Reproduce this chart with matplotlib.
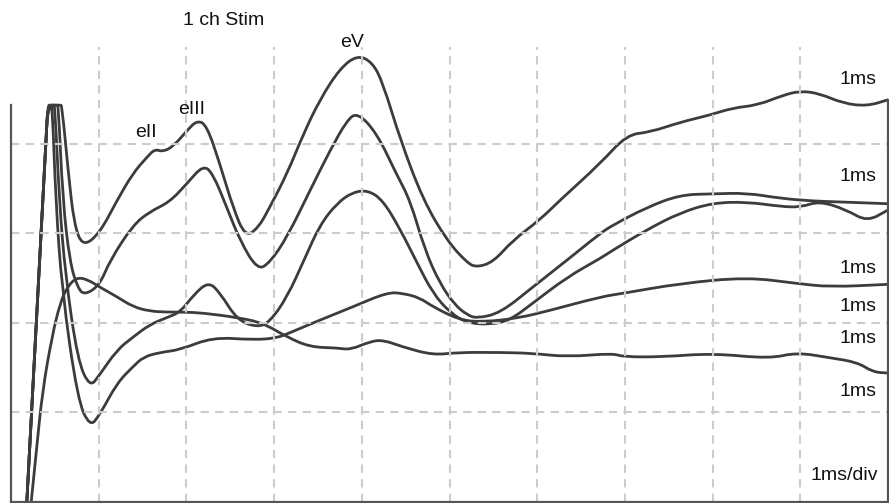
import matplotlib
matplotlib.use('Agg')
import numpy as np
import matplotlib.pyplot as plt
from matplotlib.path import Path
from matplotlib.patches import PathPatch

plt.rcParams['font.family'] = ['Liberation Sans', 'DejaVu Sans']

# time in ms, amplitude in grid divisions (the stimulus artefact is clipped at 4.43)
t1 = [0.18, 0.40, 0.42, 0.56, 0.58, 0.65, 0.72, 0.82, 1.01, 1.21, 1.39, 1.55, 1.64, 1.73, 1.85,
      2.01, 2.12, 2.23, 2.38, 2.53, 2.67, 2.82, 2.95, 3.15, 3.33, 3.52, 3.75, 3.95, 4.12, 4.24,
      4.44, 4.70, 4.97, 5.20, 5.31, 5.50, 5.72, 6.03, 6.26, 6.72, 7.02, 7.29, 7.63, 7.97, 8.23,
      8.51, 8.80, 9.00, 9.22, 9.49, 9.76, 10.0]
v1 = [0, 4.06, 4.43, 4.43, 4.43, 3.71, 3.09, 2.85, 3.00, 3.37, 3.67, 3.85, 3.94, 3.91, 3.97,
      4.15, 4.26, 4.21, 3.78, 3.29, 2.96, 3.06, 3.29, 3.67, 4.10, 4.49, 4.84, 4.99, 4.91, 4.68,
      4.04, 3.37, 2.92, 2.67, 2.62, 2.68, 2.92, 3.15, 3.37, 3.78, 4.10, 4.13, 4.24, 4.32, 4.40,
      4.43, 4.54, 4.59, 4.56, 4.45, 4.42, 4.49]

t2 = [0.18, 0.40, 0.42, 0.52, 0.54, 0.59, 0.67, 0.76, 0.84, 1.01, 1.13, 1.39, 1.58, 1.81, 2.01,
      2.19, 2.30, 2.46, 2.61, 2.81, 2.95, 3.15, 3.41, 3.64, 3.83, 3.95, 4.17, 4.40, 4.55, 4.72,
      4.89, 5.06, 5.20, 5.31, 5.58, 5.95, 6.34, 6.72, 6.86, 7.25, 7.63, 8.00, 8.39, 8.77, 9.14,
      9.45, 10.0]
v2 = [0, 4.06, 4.43, 4.43, 4.43, 3.37, 2.68, 2.39, 2.31, 2.42, 2.70, 3.09, 3.24, 3.35, 3.56,
      3.76, 3.67, 3.29, 2.92, 2.59, 2.67, 2.96, 3.48, 3.93, 4.26, 4.35, 4.12, 3.65, 3.37, 2.81,
      2.44, 2.20, 2.09, 2.05, 2.11, 2.40, 2.70, 3.00, 3.09, 3.29, 3.43, 3.44, 3.45, 3.39, 3.36,
      3.35, 3.33]

t3 = [0.18, 0.40, 0.42, 0.48, 0.50, 0.55, 0.62, 0.76, 0.90, 1.01, 1.21, 1.39, 1.58, 1.78, 1.93,
      2.08, 2.25, 2.38, 2.58, 2.81, 2.95, 3.15, 3.35, 3.52, 3.72, 3.90, 4.07, 4.24, 4.44, 4.63,
      4.81, 5.01, 5.20, 5.46, 5.69, 5.95, 6.34, 6.72, 6.86, 7.25, 7.63, 8.00, 8.39, 8.77, 9.00,
      9.22, 9.53, 9.76, 10.0]
v3 = [0, 4.06, 4.43, 4.43, 4.43, 3.37, 2.53, 1.58, 1.28, 1.42, 1.70, 1.84, 1.98, 2.06, 2.12,
      2.31, 2.46, 2.34, 2.03, 1.95, 2.01, 2.29, 2.72, 3.09, 3.34, 3.46, 3.48, 3.37, 3.04, 2.67,
      2.33, 2.11, 2.00, 1.98, 2.03, 2.22, 2.51, 2.72, 2.81, 3.04, 3.23, 3.34, 3.35, 3.30, 3.29,
      3.36, 3.26, 3.13, 3.26]

t4 = [0.18, 0.40, 0.42, 0.45, 0.47, 0.51, 0.58, 0.76, 0.90, 1.01, 1.21, 1.39, 1.51, 1.70, 1.93,
      2.30, 2.76, 3.03, 3.18, 3.52, 3.90, 4.29, 4.47, 4.66, 4.81, 5.12, 5.38, 5.77, 6.15, 6.72,
      6.98, 7.63, 8.39, 8.96, 9.34, 10.0]
v4 = [0, 4.06, 4.43, 4.43, 4.43, 3.37, 2.37, 1.14, 0.84, 0.97, 1.33, 1.51, 1.62, 1.67, 1.70,
      1.84, 1.81, 1.83, 1.89, 2.03, 2.18, 2.34, 2.33, 2.28, 2.18, 2.03, 2.01, 2.05, 2.14, 2.29,
      2.33, 2.44, 2.51, 2.44, 2.40, 2.43]

t5 = [0.23, 0.29, 0.36, 0.47, 0.56, 0.64, 0.75, 0.88, 1.01, 1.21, 1.39, 1.58, 1.78, 1.98, 2.19,
      2.58, 2.87, 3.15, 3.41, 3.72, 3.87, 4.09, 4.24, 4.47, 4.81, 5.09, 5.58, 5.95, 6.34, 6.86,
      6.98, 7.43, 8.00, 8.65, 8.96, 9.34, 9.65, 9.83, 10.0]
v5 = [0, 0.58, 1.25, 1.86, 2.22, 2.40, 2.51, 2.48, 2.40, 2.29, 2.18, 2.13, 2.12, 2.12, 2.11,
      2.06, 2.00, 1.84, 1.73, 1.72, 1.70, 1.79, 1.81, 1.73, 1.64, 1.67, 1.67, 1.66, 1.62, 1.66,
      1.62, 1.62, 1.66, 1.60, 1.67, 1.61, 1.56, 1.45, 1.44]

traces = [(t1, v1), (t2, v2), (t3, v3), (t4, v4), (t5, v5)]

scale_labels = ['1ms'] * 6
scale_label_y = [4.72, 3.63, 2.61, 2.18, 1.83, 1.23]

peak_names = ['eII', 'eIII', 'eV']
peak_x = [1.54, 2.06, 3.89]
peak_y = [4.12, 4.38, 5.13]


def smooth_path(t, v):
    # quadratic bezier through midpoints, the readings act as control points
    pts = np.column_stack([t, v])
    mids = (pts[:-1] + pts[1:]) / 2
    verts = [pts[0], mids[0]]
    codes = [Path.MOVETO, Path.LINETO]
    for i in range(1, len(pts) - 1):
        verts += [pts[i], mids[i]]
        codes += [Path.CURVE3, Path.CURVE3]
    verts.append(pts[-1])
    codes.append(Path.LINETO)
    return Path(verts, codes)


fig = plt.figure(figsize=(8.89, 5.03), dpi=100)
ax = fig.add_axes([0.0124, 0.002, 0.9865, 0.9046])
ax.set_xlim(0, 10)
ax.set_ylim(0, 5.08)

# dashed grid, one line per division
ax.set_xticks(np.arange(1, 10))
ax.set_yticks(np.arange(1, 5))
ax.tick_params(length=0, labelbottom=False, labelleft=False)
ax.grid(True, color='#cccccc', linestyle=(0, (4, 3)), linewidth=1.5)

for t, v in traces:
    ax.add_patch(PathPatch(smooth_path(t, v), facecolor='none', edgecolor='#3c3c3c',
                           linewidth=2.0, capstyle='round', joinstyle='round'))

ax.spines['top'].set_visible(False)
for s in ['left', 'right', 'bottom']:
    ax.spines[s].set_color('#555555')
    ax.spines[s].set_linewidth(1.6)
ax.spines['left'].set_bounds(0, 4.43)
ax.spines['right'].set_bounds(0, 4.49)

for lab, y in zip(scale_labels, scale_label_y):
    ax.text(9.87, y, lab, ha='right', va='center', fontsize=14, color='#111111')

for name, x, y in zip(peak_names, peak_x, peak_y):
    ax.text(x, y, name, ha='center', va='center', fontsize=14, color='#111111')

ax.text(2.42, 5.38, '1 ch Stim', ha='center', va='center', fontsize=14,
        color='#111111', clip_on=False)
ax.text(9.89, 0.30, '1ms/div', ha='right', va='center', fontsize=14, color='#111111',
        bbox=dict(facecolor='white', edgecolor='none', pad=2))

fig.savefig('out.png', dpi=100)
